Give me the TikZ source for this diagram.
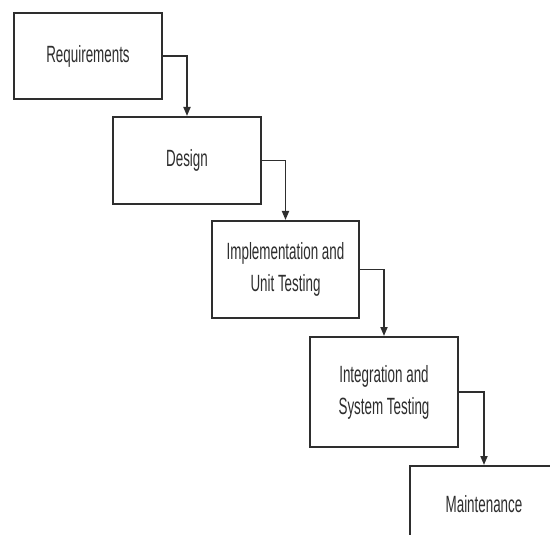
\documentclass[tikz,border=0pt]{standalone}
\usepackage{fontspec}
\usetikzlibrary{arrows.meta}
\newfontfamily\boxfont[FakeStretch=0.57]{Liberation Sans}
\definecolor{ink}{HTML}{2E2E2E}
\tikzset{
  stage/.style={draw=ink, line width=2pt, fill=white, text=ink,
    font={\boxfont\fontsize{23.5pt}{32pt}\selectfont}, align=center,
    inner sep=0pt, minimum width=148pt},
  flow/.style={draw=ink, line width=1.7pt, -{Triangle[length=9pt,width=7pt]}}
}
\begin{document}
\begin{tikzpicture}[x=1pt,y=-1pt]
\useasboundingbox (0,0) rectangle (550,535);
\clip (0,0) rectangle (550,535);
\node[stage, minimum height=86pt] (req) at (88,56) {Requirements};
\node[stage, minimum height=87pt] (des) at (187,160.5) {Design};
\node[stage, minimum height=97pt, minimum width=147pt] (imp) at (285.5,269.5) {Implementation and\\Unit Testing};
\node[stage, minimum height=110pt] (int) at (384,392) {Integration and\\System Testing};
\node[stage, minimum height=76pt, anchor=north west] (mai) at (409,465) {Maintenance};
\draw[flow] (req.east) -| (des.north);
\draw[flow] (des.east) -| (imp.north);
\draw[flow] (imp.east) -| (int.north);
\draw[flow] (int.east) -| (mai.north);
\end{tikzpicture}
\end{document}
